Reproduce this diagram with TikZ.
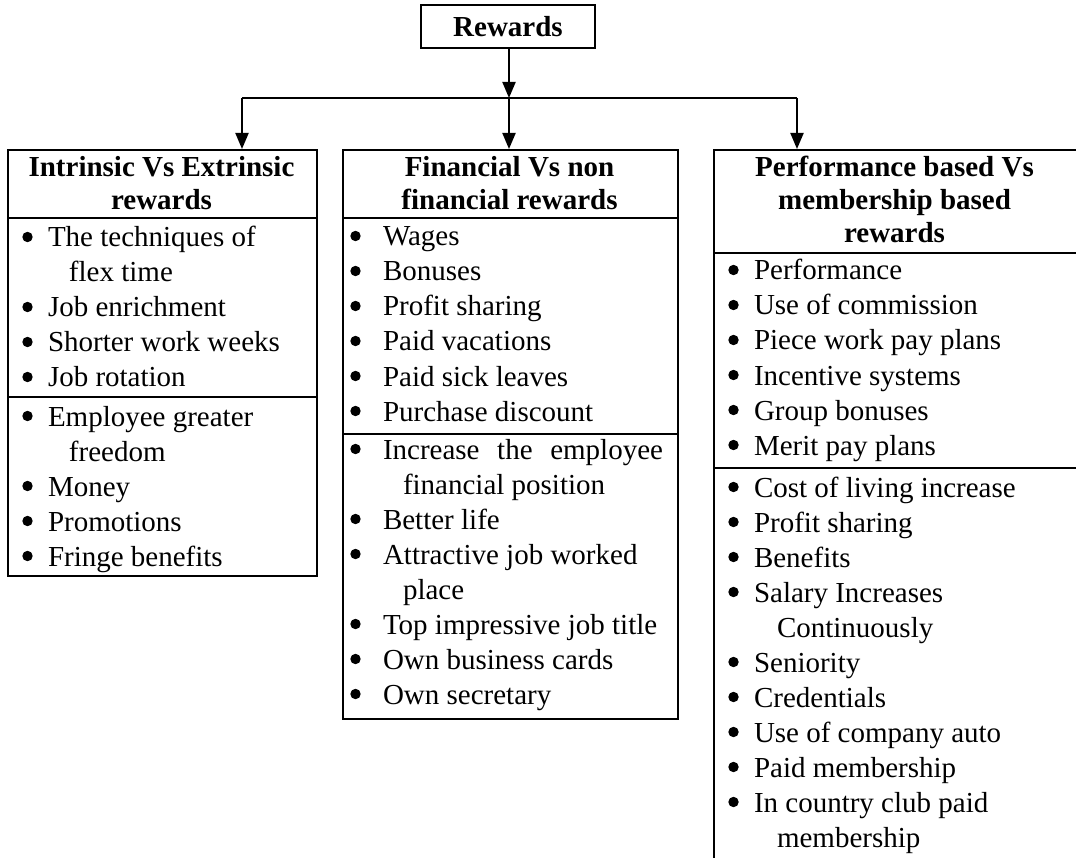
\documentclass[tikz,border=0pt]{standalone}
\usepackage{fontspec}
\setmainfont{Liberation Serif}
\usetikzlibrary{arrows.meta}

% gaps between bullet and text, and indent of continuation lines
\newlength\bgap
\newlength\cgap
\newcommand\mkb[1]{\hspace*{\bgap}#1}
\newcommand\mkc[1]{\hspace*{\cgap}#1}
% round bullet drawn beside a bulleted line; nothing for continued lines
\newcommand\dotb[2]{\fill (#1+5.5,#2-10) circle[radius=5.2pt];}
\newcommand\dotc[2]{}

% #1 name prefix, #2 x of bullet, #3 first baseline, #4 bullet gap,
% #5 continuation indent, #6 list of b/text (bullet) or c/text (continued)
\newcommand\placelist[6]{%
  \setlength\bgap{#4}\setlength\cgap{#5}%
  \foreach \k/\t [count=\i from 0] in {#6}{%
    \pgfmathsetmacro\yy{#3+35*\i}%
    \node[itm] (#1\i) at (#2,\yy) {\csname mk\k\endcsname{\t}};
    \csname dot\k\endcsname{#2}{\yy}%
  }%
}
% #1 name prefix, #2 x centre, #3 first baseline, #4 lines
\newcommand\placehead[4]{%
  \foreach \t [count=\i from 0] in {#4}{%
    \node[hdr] (#1\i) at (#2,{#3+33*\i}) {\t};
  }%
}

\begin{document}
\begin{tikzpicture}[
  x=1pt, y=-1pt,
  line width=2pt,
  itm/.style={anchor=base west, inner sep=0pt, font=\fontsize{29}{35}\selectfont},
  hdr/.style={anchor=base, inner sep=0pt, font=\fontsize{29}{35}\selectfont\bfseries},
  frame/.style={draw, anchor=north west, inner sep=0pt, line width=2pt},
  arr/.style={-{Triangle[length=16pt,width=13pt]}, line width=2pt},
]
\useasboundingbox (0,0) rectangle (1076,858);

% top box
\node[frame, minimum width=174pt, minimum height=43pt,
      font=\fontsize{29}{35}\selectfont\bfseries] (rew) at (420,4) {Rewards};

% three category boxes
\node[frame, minimum width=309pt, minimum height=426pt] (boxL) at (7,149) {};
\node[frame, minimum width=335pt, minimum height=569pt] (boxM) at (342,149) {};
\node[frame, minimum width=364pt, minimum height=730pt] (boxR) at (713,149) {};

% section dividers
\draw (boxL.west |- 0,218) -- (boxL.east |- 0,218);
\draw (boxL.west |- 0,397) -- (boxL.east |- 0,397);
\draw (boxM.west |- 0,218) -- (boxM.east |- 0,218);
\draw (boxM.west |- 0,434) -- (boxM.east |- 0,434);
\draw (boxR.west |- 0,253) -- (boxR.east |- 0,253);
\draw (boxR.west |- 0,468) -- (boxR.east |- 0,468);

% connectors
\coordinate (hubL) at (242,98);
\coordinate (hubM) at (509,98);
\coordinate (hubR) at (797,98);
\draw[arr] (rew.south -| hubM) -- (hubM);
\draw (hubL) -- (hubR);
\draw[arr] (hubL) -- (hubL |- boxL.north);
\draw[arr] (hubM) -- (hubM |- boxM.north);
\draw[arr] (hubR) -- (hubR |- boxR.north);

% headings
\placehead{hL}{161.5}{177}{Intrinsic Vs Extrinsic, rewards}
\placehead{hM}{509.5}{177}{Financial Vs non, financial rewards}
\placehead{hR}{894.5}{177}{Performance based Vs, membership based, rewards}

% left column
\placelist{la}{22}{247}{25pt}{46pt}{b/The techniques of, c/flex time,
  b/Job enrichment, b/Shorter work weeks, b/Job rotation}
\placelist{lb}{22}{426}{25pt}{46pt}{b/Employee greater, c/freedom,
  b/Money, b/Promotions, b/Fringe benefits}

% middle column
\placelist{ma}{350}{246}{32pt}{52pt}{b/Wages, b/Bonuses, b/Profit sharing,
  b/Paid vacations, b/Paid sick leaves, b/Purchase discount}
\placelist{mb}{350}{459}{32pt}{52pt}{b/{\makebox[280pt][s]{Increase the employee}},
  c/financial position, b/Better life, b/Attractive job worked, c/place,
  b/Top impressive job title, b/Own business cards, b/Own secretary}

% right column
\placelist{ra}{728}{280}{25pt}{48pt}{b/Performance, b/Use of commission,
  b/Piece work pay plans, b/Incentive systems, b/Group bonuses, b/Merit pay plans}
\placelist{rb}{728}{497}{25pt}{48pt}{b/Cost of living increase, b/Profit sharing,
  b/Benefits, b/Salary Increases, c/Continuously, b/Seniority, b/Credentials,
  b/Use of company auto, b/Paid membership, b/In country club paid, c/membership}
\end{tikzpicture}
\end{document}
